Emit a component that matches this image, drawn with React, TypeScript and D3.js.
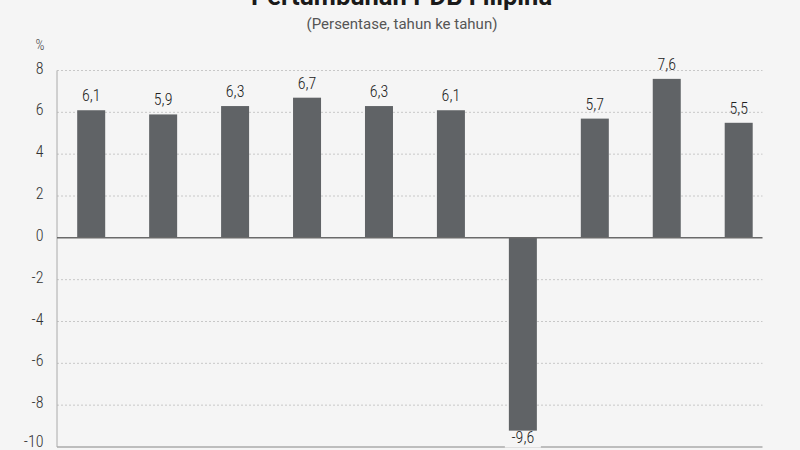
import { useEffect, useRef } from 'react';
import * as d3 from 'd3';

const years = [ '2014', '2015', '2016', '2017', '2018', '2019', '2020', '2021', '2022', '2023' ];
const growth = [ 6.1, 5.9, 6.3, 6.7, 6.3, 6.1, -9.6, 5.7, 7.6, 5.5 ];
const yTicks = [ 8, 6, 4, 2, 0, -2, -4, -6, -8, -10 ];

const title = 'Pertumbuhan PDB Filipina';
const subtitle = '(Persentase, tahun ke tahun)';
const unitLabel = '%';

export default function App() {
  const svgRef = useRef<SVGSVGElement>( null );

  useEffect( () => {
    if ( !svgRef.current ) return;
    document.body.style.margin = '0';

    const width = 800;
    const height = 450;
    const bg = '#f5f5f5';
    const condensed = '"Roboto Condensed", "Liberation Sans Narrow", Roboto, sans-serif';
    const regular = 'Roboto, "Noto Sans", sans-serif';

    const svg = d3.select( svgRef.current );
    svg.selectAll( '*' ).remove();
    svg.attr( 'width', width ).attr( 'height', height ).style( 'font-family', condensed );

    svg.append( 'rect' ).attr( 'width', width ).attr( 'height', height ).attr( 'fill', bg );

    const left = 57;
    const right = 762.5;

    const y = d3.scaleLinear().domain( [ -10, 8 ] ).range( [ 447, 70.5 ] );
    const x = d3.scalePoint<string>().domain( years ).range( [ 91.2, 738.7 ] );
    const barW = 28;

    // title + subtitle
    svg.append( 'text' )
      .attr( 'x', 401.5 ).attr( 'y', 4.5 )
      .attr( 'text-anchor', 'middle' )
      .style( 'font-family', regular )
      .attr( 'font-size', 25.5 ).attr( 'font-weight', 'bold' )
      .attr( 'fill', '#1a1a1a' )
      .text( title );

    svg.append( 'text' )
      .attr( 'x', 402 ).attr( 'y', 29 )
      .attr( 'text-anchor', 'middle' )
      .style( 'font-family', regular )
      .attr( 'font-size', 15 )
      .attr( 'fill', '#555' )
      .text( subtitle );

    svg.append( 'text' )
      .attr( 'x', 40 ).attr( 'y', 50 )
      .attr( 'text-anchor', 'middle' )
      .attr( 'font-size', 14 )
      .attr( 'font-weight', 300 )
      .attr( 'fill', '#444' )
      .text( unitLabel );

    // grid
    svg.append( 'g' )
      .selectAll( 'line' )
      .data( yTicks.filter( t => t !== 0 && t !== -10 ) )
      .join( 'line' )
      .attr( 'x1', left ).attr( 'x2', right )
      .attr( 'y1', d => y( d ) ).attr( 'y2', d => y( d ) )
      .attr( 'stroke', '#c8c8c8' )
      .attr( 'stroke-width', 1 )
      .attr( 'stroke-dasharray', '2,2' );

    // tick labels
    svg.append( 'g' )
      .selectAll( 'text' )
      .data( yTicks )
      .join( 'text' )
      .attr( 'x', 43.5 )
      .attr( 'y', d => Math.min( y( d ) + 3, 447 ) )
      .attr( 'text-anchor', 'end' )
      .attr( 'font-size', 16 )
      .attr( 'font-weight', 300 )
      .attr( 'fill', '#333' )
      .text( d => String( d ) );

    // axes
    svg.append( 'line' )
      .attr( 'x1', left ).attr( 'x2', left )
      .attr( 'y1', y( 8 ) ).attr( 'y2', y( -10 ) )
      .attr( 'stroke', '#aaa' );
    svg.append( 'line' )
      .attr( 'x1', left ).attr( 'x2', right )
      .attr( 'y1', y( -10 ) ).attr( 'y2', y( -10 ) )
      .attr( 'stroke', '#aaa' ).attr( 'stroke-width', 1.5 );

    // bars
    svg.append( 'g' )
      .selectAll( 'rect' )
      .data( growth )
      .join( 'rect' )
      .attr( 'x', ( d, i ) => ( x( years[ i ] ) as number ) - barW / 2 )
      .attr( 'y', d => y( Math.max( 0, d ) ) )
      .attr( 'width', barW )
      .attr( 'height', d => Math.abs( y( d ) - y( 0 ) ) )
      .attr( 'fill', '#606366' );

    // zero line
    svg.append( 'line' )
      .attr( 'x1', left ).attr( 'x2', right )
      .attr( 'y1', y( 0 ) ).attr( 'y2', y( 0 ) )
      .attr( 'stroke', '#6a6a6a' ).attr( 'stroke-width', 1.5 );

    // value labels
    const fmt = ( v: number ) => v.toFixed( 1 ).replace( '.', ',' );
    const labels = svg.append( 'g' )
      .selectAll( 'g' )
      .data( growth )
      .join( 'g' )
      .attr( 'transform', ( d, i ) => {
        const cx = x( years[ i ] ) as number;
        const cy = d >= 0 ? y( d ) - 9 : y( d ) + 4.5;
        return `translate(${ cx },${ cy })`;
      } );

    labels.filter( d => d < 0 )
      .append( 'rect' )
      .attr( 'x', -18 ).attr( 'y', -12.5 )
      .attr( 'width', 36 ).attr( 'height', 17 )
      .attr( 'fill', bg );

    labels.append( 'text' )
      .attr( 'text-anchor', 'middle' )
      .attr( 'font-size', 16 )
      .attr( 'font-weight', 300 )
      .attr( 'fill', '#222' )
      .text( d => fmt( d ) );
  }, [] );

  return <svg ref={ svgRef } style={ { display: 'block' } } />;
}
